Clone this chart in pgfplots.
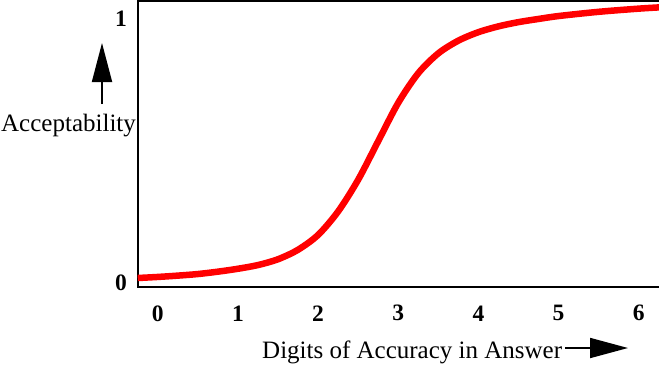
\documentclass[border=0pt]{standalone}
\usepackage{fontspec}
\setmainfont{Liberation Serif}
\usepackage{pgfplots}
\pgfplotsset{compat=1.18}
\usetikzlibrary{arrows.meta}
\begin{document}
\begin{tikzpicture}[x=1bp,y=1bp]
\useasboundingbox (0,0) rectangle (659,370);
\begin{axis}[
  at={(137.5bp,83.3bp)}, anchor=south west,
  scale only axis, width=523bp, height=285.2bp,
  xmin=-0.253, xmax=6.271, ymin=-0.0129, ymax=1.066,
  axis line style={line width=2bp},
  xtick={0,1,2,3,4,5,6}, xticklabels={0,1,2,3,4,5,6},
  ytick={0,1}, yticklabels={0,1},
  major tick length=0pt,
  xticklabel style={font=\fontsize{23.5bp}{24bp}\selectfont\bfseries, anchor=center, inner sep=0pt, yshift=-26.6bp},
  yticklabel style={font=\fontsize{23.5bp}{24bp}\selectfont\bfseries, anchor=east, inner sep=0pt, xshift=-10.5bp},
  clip=false,
]
\addplot[red, line width=6.5bp, smooth] coordinates {
(-0.25,0.020) (0,0.024) (0.25,0.029) (0.5,0.035) (0.75,0.044) (1.0,0.055)
(1.25,0.069) (1.5,0.091) (1.75,0.127) (2.0,0.183) (2.25,0.272) (2.5,0.392)
(2.75,0.538) (3.0,0.683) (3.25,0.795) (3.5,0.870) (3.75,0.918) (4.0,0.950)
(4.25,0.972) (4.5,0.988) (4.75,1.000) (5.0,1.011) (5.5,1.027) (6.0,1.039) (6.27,1.044)
};
\end{axis}
\node[anchor=base west, inner sep=0pt, font=\fontsize{25bp}{26bp}\selectfont] at (1,239) {Acceptability};
\node[anchor=base west, inner sep=0pt, font=\fontsize{25bp}{26bp}\selectfont] at (262,11.7) {Digits of Accuracy in Answer};
\draw[line width=1.8bp, -{Triangle[length=39bp,width=20bp]}] (102,266) -- (102,327);
\draw[line width=1.8bp, -{Triangle[length=38bp,width=20bp]}] (565,22) -- (628,22);
\end{tikzpicture}
\end{document}
